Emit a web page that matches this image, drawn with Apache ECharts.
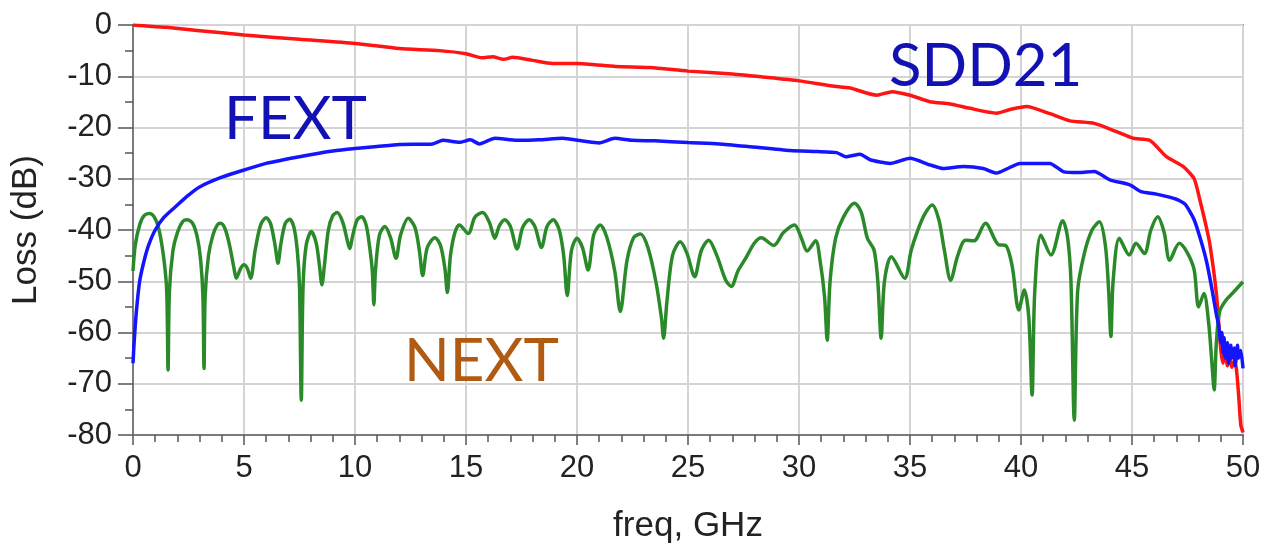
<!DOCTYPE html>
<html>
<head>
<meta charset="utf-8">
<script src="https://cdn.jsdelivr.net/npm/echarts@6/dist/echarts.min.js"></script>
<style>
html,body{margin:0;padding:0;background:#fff;}
#chart{width:1263px;height:546px;}
</style>
</head>
<body>
<div id="chart"></div>
<script>
// ---- Data ----
var xTicks = [0, 5, 10, 15, 20, 25, 30, 35, 40, 45, 50];
var yTicks = [0, -10, -20, -30, -40, -50, -60, -70, -80];

var sddFreq = [0,0.5,1.5,3,5,7.5,10,12,13.8,15.0,15.7,16.2,16.7,17.1,18.0,18.9,20,21.75,23.3,25,27,28.5,30,31.5,32.3,33.5,34.2,35.0,35.9,36.8,37.7,38.9,39.5,40.25,41.3,42.2,43.3,44.3,45.05,45.8,46.55,47.3,47.8,48.05,48.3,48.5,48.8,49.0,49.1,49.2,49.3,49.4,49.5,49.6,49.7,49.8,49.9,50.0];
var sddLoss = [0,-0.15,-0.45,-1.1,-1.95,-2.8,-3.6,-4.6,-5.0,-5.6,-6.4,-6.2,-6.7,-6.3,-6.9,-7.5,-7.5,-8.1,-8.3,-9.0,-9.56,-10.2,-10.9,-11.9,-12.3,-13.7,-13.0,-13.7,-14.96,-15.4,-16.26,-17.2,-16.5,-15.9,-17.3,-18.7,-19.2,-20.8,-22.1,-22.5,-25.7,-27.6,-30.0,-34,-38.5,-42.6,-52.4,-63.4,-66,-64,-66.5,-65,-66.8,-65.5,-67,-72,-78,-79.5];

var fextFreq = [0,0.05,0.15,0.3,0.5,0.7,1.0,1.4,1.9,2.5,3.0,4.0,5.0,6.0,7.5,9.0,10.0,11.0,12.0,13.5,13.95,14.7,15.2,15.6,16.3,17.3,18.3,19.35,20.2,21.0,21.7,22.5,23.5,25.0,26.4,27.7,29.6,30.8,31.7,32.1,32.75,33.2,34.1,35.0,35.9,36.5,37.4,38.3,38.9,39.4,39.95,41.3,41.9,42.6,43.3,44.0,44.9,45.4,46.1,47.0,47.4,47.8,48.1,48.35,48.6,48.8,48.9,49.0,49.05,49.1,49.15,49.2,49.3,49.35,49.45,49.5,49.6,49.65,49.75,49.8,49.9,50.0];
var fextLoss = [-66,-62,-56,-50,-46,-43,-40,-37.5,-35.5,-33.2,-31.6,-29.7,-28.3,-27.0,-25.7,-24.6,-24.1,-23.7,-23.3,-23.2,-22.5,-22.9,-22.4,-23.2,-22.1,-22.5,-22.4,-22.1,-22.6,-23.0,-22.1,-22.5,-22.6,-22.95,-23.2,-23.7,-24.5,-24.7,-24.9,-25.7,-25.2,-26.3,-27.0,-26.0,-27.3,-28.0,-27.6,-28.0,-28.9,-28.0,-27.0,-27.0,-28.6,-28.8,-28.6,-30.2,-31.2,-32.5,-33.0,-34.0,-35.0,-38.0,-42,-46,-51.5,-56.5,-58.5,-62,-60,-64,-61,-65,-62,-66,-62.5,-65,-63,-66.5,-62.5,-65,-63.5,-67];

var nextFreq = [0.0,0.1,0.3,0.5,0.75,1.0,1.2,1.4,1.52,1.58,1.64,1.8,2.0,2.25,2.45,2.7,2.9,3.05,3.15,3.2,3.25,3.4,3.6,3.8,3.95,4.15,4.35,4.55,4.65,4.85,5.0,5.15,5.3,5.5,5.75,6.0,6.2,6.4,6.53,6.65,6.85,7.06,7.25,7.4,7.5,7.58,7.66,7.8,8.03,8.25,8.4,8.51,8.62,8.8,9.0,9.2,9.45,9.65,9.76,9.9,10.1,10.3,10.5,10.65,10.78,10.85,10.92,11.1,11.35,11.6,11.85,12.05,12.4,12.7,12.9,13.05,13.25,13.6,13.85,14.05,14.16,14.3,14.5,14.7,15.1,15.4,15.75,16.05,16.3,16.5,16.75,17.0,17.3,17.55,17.85,18.1,18.4,18.65,18.93,19.2,19.4,19.56,19.75,20.0,20.25,20.5,20.75,21.05,21.35,21.7,21.95,22.25,22.55,22.86,23.2,23.55,23.8,23.9,24.05,24.3,24.65,24.95,25.3,25.6,25.93,26.3,26.7,26.95,27.25,27.6,28.0,28.3,28.86,29.3,29.8,30.1,30.37,30.75,30.95,31.15,31.27,31.4,31.65,32.0,32.5,32.8,33.08,33.38,33.55,33.7,33.85,34.16,34.76,35.05,35.33,35.65,36.0,36.3,36.55,36.83,37.15,37.5,37.88,38.4,39.0,39.3,39.6,39.9,40.15,40.35,40.5,40.62,40.9,41.35,41.88,42.1,42.25,42.4,42.55,42.85,43.2,43.53,43.8,43.95,44.05,44.15,44.43,44.88,45.18,45.56,45.85,46.16,46.45,46.7,47.13,47.5,47.8,48.0,48.24,48.45,48.6,48.7,48.8,48.95,49.23,49.6,50.0];
var nextLoss = [-48,-43,-39,-37.2,-36.8,-37.8,-40.5,-46,-52,-67.3,-52,-44,-40.5,-38.3,-38,-38.8,-41.5,-46,-53,-67,-53,-45,-41,-39,-38.7,-39.8,-43,-47.5,-49.4,-47.5,-46.8,-47.5,-49.4,-44,-39,-37.6,-38.8,-43,-46.5,-43,-38.8,-37.9,-39.5,-44,-51,-73.2,-51,-43,-40.3,-42.5,-47,-50.7,-47,-40,-37.2,-36.6,-38.5,-42,-43.6,-41,-38,-37.4,-39,-43,-48,-54.6,-48,-41,-39.3,-41.5,-45.5,-41,-37.7,-39.5,-44,-48.9,-43.5,-41.5,-43,-47.5,-52.2,-45,-40.5,-39,-40.7,-37.5,-36.6,-38.5,-41.6,-39.2,-38,-39.3,-43.7,-39.5,-38,-39.3,-43.4,-39.3,-38,-40,-45,-52.8,-44,-41.6,-43.5,-47.8,-41,-39,-41.5,-48,-55.9,-46,-41.5,-40.8,-43.5,-50,-57,-61.1,-54,-45,-42.3,-44.5,-49.1,-44,-42,-45,-49.8,-51,-48,-45.5,-42.5,-41.5,-43,-40.5,-39,-41.5,-44.1,-42.1,-46,-53,-61.5,-50,-41.6,-37.5,-34.8,-36.5,-41.6,-43.9,-50,-61.1,-50,-45.2,-49.4,-44,-40.3,-37,-35.1,-38,-44,-49.8,-45,-42,-42.1,-38.7,-42.9,-43,-47,-55.6,-51.7,-57,-72.2,-52,-41,-44.9,-38.2,-41.5,-50,-77.1,-52,-44.6,-40,-38.4,-43,-52,-60.8,-50,-41.6,-44.9,-42.6,-44.6,-40,-37.4,-40.5,-45.9,-42.6,-44.5,-47.8,-55,-52.4,-58,-66,-71.2,-62,-55.9,-53.7,-52,-50.1];

function pairs(xs, ys) {
  var out = [];
  for (var i = 0; i < xs.length; i++) out.push([xs[i], ys[i]]);
  return out;
}

var chart = echarts.init(document.getElementById('chart'), null, {renderer: 'canvas'});
var axisFont = 'Liberation Sans, Arial, sans-serif';

chart.setOption({
  animation: false,
  backgroundColor: '#ffffff',
  grid: {
    left: 133, right: 20, top: 25, bottom: 111,
    containLabel: false, outerBoundsMode: 'none',
    show: true, borderColor: '#8c8c8c', borderWidth: 2, backgroundColor: 'transparent'
  },
  xAxis: {
    type: 'value', min: xTicks[0], max: xTicks[xTicks.length - 1], interval: 5,
    name: 'freq, GHz', nameLocation: 'middle', nameGap: 74,
    nameTextStyle: {fontSize: 35, color: '#222', fontFamily: axisFont},
    axisLine: {show: true, onZero: false, lineStyle: {color: '#7a7a7a', width: 2}},
    axisTick: {show: true, length: 10, lineStyle: {color: '#555', width: 1.5}},
    minorTick: {show: true, splitNumber: 5, length: 7, lineStyle: {color: '#555', width: 1.5}},
    splitLine: {show: true, lineStyle: {color: '#d4d4d4', width: 2}},
    axisLabel: {fontSize: 31, color: '#222', margin: 18, fontFamily: axisFont}
  },
  yAxis: {
    type: 'value', min: yTicks[yTicks.length - 1], max: yTicks[0], interval: 10,
    name: 'Loss (dB)', nameLocation: 'middle', nameGap: 89,
    nameTextStyle: {fontSize: 35, color: '#222', fontFamily: axisFont},
    axisLine: {show: true, onZero: false, lineStyle: {color: '#7a7a7a', width: 2}},
    axisTick: {show: true, length: 15, lineStyle: {color: '#555', width: 1.5}},
    minorTick: {show: true, splitNumber: 2, length: 8, lineStyle: {color: '#555', width: 1.5}},
    splitLine: {show: true, lineStyle: {color: '#d4d4d4', width: 2}},
    axisLabel: {fontSize: 31, color: '#222', margin: 21, fontFamily: axisFont}
  },
  series: [
    {name: 'SDD21', type: 'line', data: pairs(sddFreq, sddLoss), showSymbol: false,
     smooth: 0.2, lineStyle: {color: '#ff1414', width: 3.5}, z: 2},
    {name: 'NEXT', type: 'line', data: pairs(nextFreq, nextLoss), showSymbol: false,
     smooth: 0.3, lineStyle: {color: '#2a8a2a', width: 3.5}, z: 3},
    {name: 'FEXT', type: 'line', data: pairs(fextFreq, fextLoss), showSymbol: false,
     smooth: 0.2, lineStyle: {color: '#1414ff', width: 3.5}, z: 4}
  ],
  graphic: [
    {type: 'text', left: 224, top: 90, z: 10,
     style: {text: 'FEXT', fontSize: 60, fontFamily: 'Lato, sans-serif', fill: '#1212b4'}},
    {type: 'text', left: 889, top: 37, z: 10,
     style: {text: 'SDD21', fontSize: 60, fontFamily: 'Lato, sans-serif', fill: '#1212b4'}},
    {type: 'text', left: 404, top: 332, z: 10,
     style: {text: 'NEXT', fontSize: 60, fontFamily: 'Lato, sans-serif', fill: '#b05a12'}}
  ]
});
</script>
</body>
</html>
